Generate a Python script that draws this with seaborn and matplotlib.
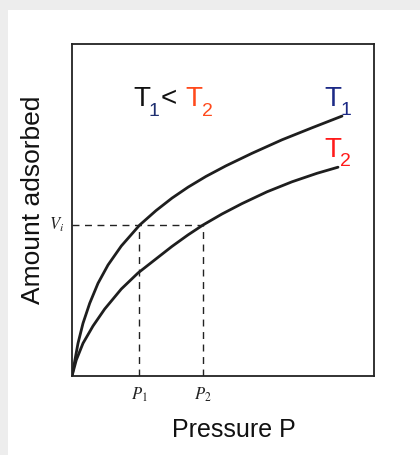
import matplotlib
matplotlib.use("Agg")
import matplotlib.pyplot as plt
import seaborn as sns
import pandas as pd
from matplotlib.patches import Rectangle

# ---- data (arbitrary units) ----
t1_x = [0, 6, 11, 17.7, 26, 36, 49.3, 67.7, 84, 100, 116, 134, 154, 180, 210, 240, 270]
t1_y = [0, 32.7, 52.7, 72.7, 92.7, 111, 130, 151, 165.4, 177.9, 188.8, 199.6, 210.2, 222.7, 236.2, 248.2, 259.9]
t2_x = [0, 4.3, 11, 21, 32.7, 49.3, 66, 84, 100, 116, 131, 150, 170, 195, 220, 245, 266]
t2_y = [0, 16, 32.7, 50, 67, 87, 103, 117.1, 129.6, 141.1, 151, 162, 172.4, 184.2, 194.2, 202.7, 208.8]
vi_level = 151
p1_value = 67
p2_value = 131
x_max = 302
y_max = 332

sns.set_theme(style="white")
plt.rcParams['font.family'] = ['Liberation Sans', 'DejaVu Sans']
plt.rcParams['mathtext.fontset'] = 'stix'

fig = plt.figure(figsize=(4.2, 4.55), dpi=100)
fig.patch.set_facecolor('#ededed')
bg = Rectangle((8 / 420, 0), 1, 1 - 10 / 455, transform=fig.transFigure,
               facecolor='white', edgecolor='none', zorder=-10)
fig.add_artist(bg)

ax = fig.add_axes([72 / 420, 1 - 376 / 455, 302 / 420, 332 / 455])
ax.set_zorder(5)
ax.set_facecolor('white')

df1 = pd.DataFrame({"P": t1_x, "V": t1_y})
df2 = pd.DataFrame({"P": t2_x, "V": t2_y})
sns.lineplot(data=df1, x="P", y="V", ax=ax, color='#1e1e1e', lw=2.0, estimator=None)
sns.lineplot(data=df2, x="P", y="V", ax=ax, color='#1e1e1e', lw=2.0, estimator=None)

dash = dict(color='#222222', lw=1.0, ls=(0, (5, 4)))
ax.plot([0, p2_value], [vi_level, vi_level], **dash)
ax.plot([p1_value, p1_value], [0, vi_level], **dash)
ax.plot([p2_value, p2_value], [0, vi_level], **dash)

ax.set_xlim(0, x_max)
ax.set_ylim(0, y_max)
ax.set_xticks([])
ax.set_yticks([])
ax.set_xlabel("")
ax.set_ylabel("")
for s in ax.spines.values():
    s.set_color('#222222')
    s.set_linewidth(1.3)
    s.set_visible(True)

# axis labels
ax.text(-39 / 302, (376 - 200) / 332, "Amount adsorbed", transform=ax.transAxes,
        rotation=90, ha='center', va='center', fontsize=19, color='#111111')
ax.text((234 - 72) / 302, (376 - 430) / 332, "Pressure P", transform=ax.transAxes,
        ha='center', va='center', fontsize=18, color='#111111')

# marked levels
ax.text(-8, vi_level, r"$V_i$", ha='right', va='center', fontsize=12, color='#222222')
ax.text(p1_value, -10, r"$P_1$", ha='center', va='top', fontsize=12, color='#222222')
ax.text(p2_value, -10, r"$P_2$", ha='center', va='top', fontsize=12, color='#222222')

# T1 < T2 annotation
def px(xp, yp):
    return (xp - 72) / 302, (376 - yp) / 332

big = 20
sub = 14
ax.text(*px(133, 106), "T", transform=ax.transAxes, fontsize=big, color='#111111', va='baseline', ha='left')
ax.text(*px(149, 116), "1", transform=ax.transAxes, fontsize=sub, color='#1f2f70', va='baseline', ha='left')
ax.text(*px(161, 106), "<", transform=ax.transAxes, fontsize=big, color='#111111', va='baseline', ha='left')
ax.text(*px(185, 106), "T", transform=ax.transAxes, fontsize=big, color='#ff4a1c', va='baseline', ha='left')
ax.text(*px(202, 116), "2", transform=ax.transAxes, fontsize=sub, color='#ff4a1c', va='baseline', ha='left')

# curve labels
ax.text(*px(324, 106), "T", transform=ax.transAxes, fontsize=big, color='#1c2a86', va='baseline', ha='left')
ax.text(*px(340, 115), "1", transform=ax.transAxes, fontsize=sub, color='#1c2a86', va='baseline', ha='left')
ax.text(*px(324, 157), "T", transform=ax.transAxes, fontsize=big, color='#ff1a1a', va='baseline', ha='left')
ax.text(*px(340, 166), "2", transform=ax.transAxes, fontsize=sub, color='#ff1a1a', va='baseline', ha='left')

fig.savefig("out.png", dpi=100, facecolor=fig.get_facecolor())
